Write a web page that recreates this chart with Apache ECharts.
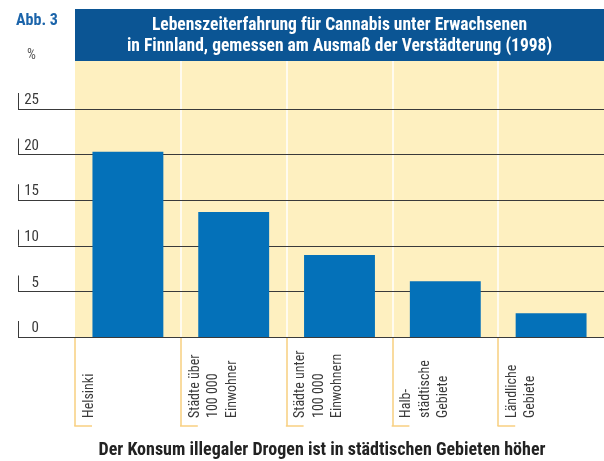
<!DOCTYPE html>
<html>
<head>
<meta charset="utf-8">
<script src="https://cdn.jsdelivr.net/npm/echarts@6/dist/echarts.min.js"></script>
<style>
  html, body { margin: 0; padding: 0; background: #fff; }
  #main { width: 604px; height: 461px; }
</style>
</head>
<body>
<div id="main"></div>
<script>
// Daten
const categories = ['Helsinki', 'Städte über\n100 000\nEinwohner', 'Städte unter\n100 000\nEinwohnern', 'Halb-\nstädtische\nGebiete', 'Ländliche\nGebiete'];
const values = [20.3, 13.7, 9.0, 6.1, 2.6];
const yTicks = [0, 5, 10, 15, 20, 25];

const FONT = '"Roboto Condensed", "DejaVu Sans Condensed", sans-serif';

(function() {
    let chart = echarts.init(document.getElementById('main'));
    let labelSlots = categories.concat(['']);   // Positionen an den Kategoriegrenzen
    let yTop = yTicks[yTicks.length - 1] * (337 - 61) / (337 - 109);

    let baseGraphic = [
        {type: 'rect', left: 75, top: 9, shape: {width: 529, height: 52}, style: {fill: '#0b5594'}, z: 10},
        {type: 'text', z: 11, style: {
            text: 'Lebenszeiterfahrung für Cannabis unter Erwachsenen\nin Finnland, gemessen am Ausmaß der Verstädterung (1998)',
            x: 339.5, y: 36.5, align: 'center', verticalAlign: 'middle', lineHeight: 21,
            fontSize: 17.5, fontWeight: 'bold', fontFamily: FONT, fill: '#fff'}},
        {type: 'text', z: 11, style: {text: 'Abb. 3', x: 16, y: 21, verticalAlign: 'middle',
            fontSize: 16, fontWeight: 'bold', fontFamily: FONT, fill: '#1b64aa'}},
        {type: 'text', z: 11, style: {text: '%', x: 27, y: 55.5, verticalAlign: 'middle',
            fontSize: 14, fontFamily: FONT, fill: '#555'}},
        {type: 'text', z: 11, style: {text: 'Der Konsum illegaler Drogen ist in städtischen Gebieten höher',
            x: 322, y: 450, align: 'center', verticalAlign: 'middle',
            fontSize: 18, fontWeight: 'bold', fontFamily: FONT, fill: '#222'}}
    ];

    let option = {
        animation: false,
        textStyle: {fontFamily: FONT},
        grid: [
            {left: 18, right: 0, top: 109, bottom: 124, outerBoundsMode: 'none'},
            {left: 75, right: 0, top: 61, bottom: 124, outerBoundsMode: 'none',
                show: true, backgroundColor: '#fef0c0', borderWidth: 0}
        ],
        xAxis: [
            {gridIndex: 0, type: 'value', show: false},
            {gridIndex: 1, type: 'category', data: categories, show: false},
            {
                gridIndex: 1, type: 'category', data: labelSlots, boundaryGap: false, position: 'bottom', z: 0,
                axisLine: {show: false},
                axisTick: {show: true, length: 89, interval: (i, v) => v !== '', lineStyle: {color: '#f8cf80', width: 1.5}},
                splitLine: {show: true, interval: (i, v) => i > 0 && v !== '', lineStyle: {color: '#ffffff', width: 1.5}},
                axisLabel: {
                    interval: 0, rotate: 90, align: 'left', verticalAlign: 'top', margin: 81,
                    padding: [5, 0, 0, 0], fontSize: 14, lineHeight: 18.5, color: '#3a3a3a'
                }
            }
        ],
        yAxis: [
            {
                gridIndex: 0, type: 'value', min: yTicks[0], max: yTicks[yTicks.length - 1], interval: 5, z: 1,
                axisLine: {show: false}, axisTick: {show: false},
                splitLine: {lineStyle: {color: '#3a3a3a', width: 1}},
                axisLabel: {
                    inside: true, margin: 0, align: 'left', verticalAlign: 'bottom',
                    formatter: v => '{b|}{v|' + v + '}',
                    rich: {
                        b: {width: 1, height: 16, backgroundColor: '#3a3a3a'},
                        v: {width: 20, align: 'right', fontSize: 15, color: '#3a3a3a', lineHeight: 9, verticalAlign: 'top'}
                    }
                }
            },
            {gridIndex: 1, type: 'value', min: 0, max: yTop, show: false}
        ],
        series: [{
            type: 'bar', xAxisIndex: 1, yAxisIndex: 1, data: values, barWidth: '67%', z: 2,
            itemStyle: {color: '#0471b9'}
        }],
        graphic: baseGraphic
    };
    chart.setOption(option);

    // Fuesse der Beschriftungsklammern
    let y0 = chart.convertToPixel({yAxisIndex: 1}, 0) + 89;
    let feet = categories.map(function(c, i) {
        let x = chart.convertToPixel({xAxisIndex: 2}, i);
        return {type: 'line', z: 5, shape: {x1: x - 0.75, y1: y0, x2: x + 17, y2: y0}, style: {stroke: '#f8cf80', lineWidth: 1.5}};
    });
    chart.setOption({graphic: baseGraphic.concat(feet)});
})();
</script>
</body>
</html>
